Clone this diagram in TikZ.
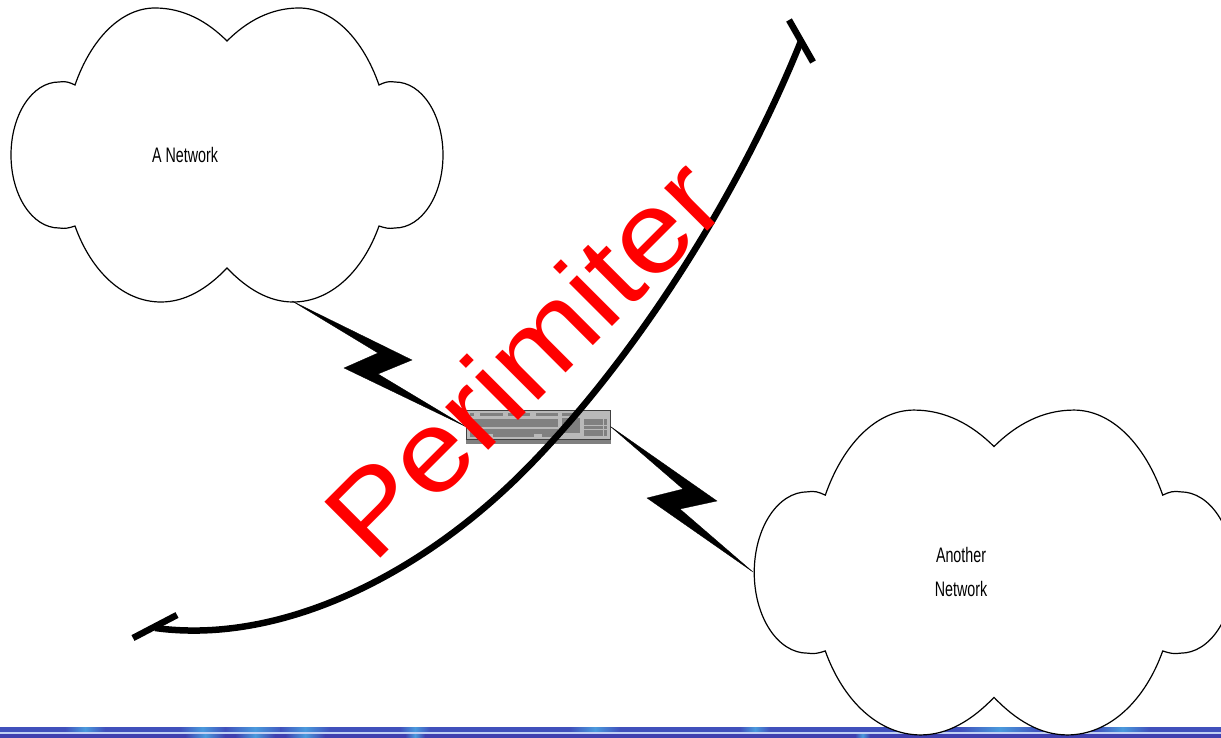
\documentclass[tikz,border=0pt]{standalone}
\usepackage{fontspec}
\setmainfont{Liberation Sans}
\newfontfamily\narrowfont[FakeStretch=0.68]{Liberation Sans}
\newfontfamily\perimfont[FakeStretch=1.1]{Liberation Sans}
\usetikzlibrary{positioning,calc}
\definecolor{perim}{HTML}{FF0000}
\definecolor{chassis}{HTML}{B9B9B9}
\definecolor{panel}{HTML}{808080}
\definecolor{bandblue}{HTML}{4040B0}
\definecolor{bandmid}{HTML}{4050BC}
\definecolor{bandglow}{HTML}{4A9ADC}
\definecolor{bandline}{HTML}{C0D0F4}

\begin{document}
\begin{tikzpicture}[
      x=1pt, y=-1pt,
      netcloud/.pic={
        \draw[line width=1.2pt, fill=white]
          (0,-114) .. controls (20,-134) and (44,-147) .. (72,-147)
          .. controls (106,-147) and (136,-116) .. (152,-70)
          .. controls (158,-73) and (162,-74) .. (168,-73)
          .. controls (195,-73) and (216,-40) .. (216,0)
          .. controls (216,40) and (195,73) .. (168,73)
          .. controls (162,74) and (158,73) .. (152,71)
          .. controls (136,116) and (104,147) .. (66,147)
          .. controls (42,147) and (20,134) .. (0,113)
          .. controls (-20,134) and (-42,147) .. (-66,147)
          .. controls (-104,147) and (-136,116) .. (-152,71)
          .. controls (-158,73) and (-162,74) .. (-168,73)
          .. controls (-195,73) and (-216,40) .. (-216,0)
          .. controls (-216,-40) and (-195,-73) .. (-168,-73)
          .. controls (-162,-74) and (-158,-73) .. (-152,-70)
          .. controls (-136,-116) and (-106,-147) .. (-72,-147)
          .. controls (-44,-147) and (-20,-134) .. (0,-114) -- cycle;
      },
      netlbl/.style={font=\narrowfont\fontsize{21}{34}\selectfont, align=center, inner sep=0pt},
      device/.style={draw=black!75, fill=chassis, line width=1pt, inner sep=0pt,
                     minimum width=144pt, minimum height=33pt},
      slot/.style={fill=panel, draw=none},
      boundary/.style={line width=6.5pt, black},
      bolt/.style={fill=black, draw=black, line width=0.3pt, line join=miter}
    ]
    \useasboundingbox (0,0) rectangle (1221,738);

    % Blue band along the foot of the slide
    \fill[bandmid] (0,727) rectangle (1221,732);
    \fill[bandblue] (0,734) rectangle (1221,738);
    \foreach \xa/\xb in {65/105,180/225,225/285,280/330,400/430,570/620,
                         740/770,960/1040,1095/1150}
      \shade[left color=bandmid, right color=bandmid, middle color=bandglow]
        (\xa,727) rectangle (\xb,732);
    \foreach \xa/\xb in {185/225,235/275,285/325,405/425,855/870}
      \shade[left color=bandblue, right color=bandblue, middle color=bandglow]
        (\xa,734) rectangle (\xb,738);
    \fill[bandline] (0,732) rectangle (1221,734);

    \pic at (227,155) {netcloud};
    \pic[xscale=1.11, yscale=1.105] at (994,572.5) {netcloud};
    \node[netlbl] (neta) at (185,155) {A Network};
    \node[netlbl] (netb) at (961,572) {Another\\Network};

    % Anchors where the bolts touch the clouds
    \coordinate (netaport) at (292,301);
    \coordinate (netbport) at (753,572);

    \node[device] (fw) at (538,426.5) {};
    \fill[panel] ([yshift=4pt]fw.south west) rectangle (fw.south east);
    \draw[black!75, line width=0.8pt] ([yshift=4pt]fw.south west) -- ([yshift=4pt]fw.south east);
    \foreach \xa/\xb in {470/474,480/503,508/530,536/558,562/575}
      \fill[slot] (\xa,413) rectangle (\xb,416);
    \fill[slot] (470,418.5) rectangle (558,427);
    \fill[slot] (470,428.5) rectangle (558,436.5);
    \fill[slot] (562,418) rectangle (580,433);
    \fill[slot] (584,419) rectangle (607,436);
    \fill[chassis] (483,433.5) rectangle (493,436.5);
    \fill[chassis] (534,433.5) rectangle (542,436.5);
    \draw[chassis] (584,425) -- (607,425) (584,429) -- (607,429) (603,419) -- (603,436);

    \fill[bolt] (netaport) -- (412,360) -- (378,374) -- (fw.west)
      -- (344,368) -- (378,353) -- cycle;
    \fill[bolt] (fw.east) -- (717,501) -- (680,509) -- (netbport)
      -- (647,498) -- (683,489) -- cycle;

    \coordinate (perimtop) at (801,41);
    \coordinate (perimbot) at (155,628);
    \draw[boundary] (perimtop)
      .. controls (739,195) and (637,355) .. (530,465)
      .. controls (422,576) and (280,645) .. (perimbot);
    \draw[boundary] (789,20) -- (813,62);
    \draw[boundary] (133,638) -- (177,615);

    \node[font=\perimfont\fontsize{115}{115}\selectfont, text=perim, rotate=45,
          inner sep=0pt, anchor=base west]
      (perimlbl) at (373,566) {Perimiter};
  \end{tikzpicture}
\end{document}
